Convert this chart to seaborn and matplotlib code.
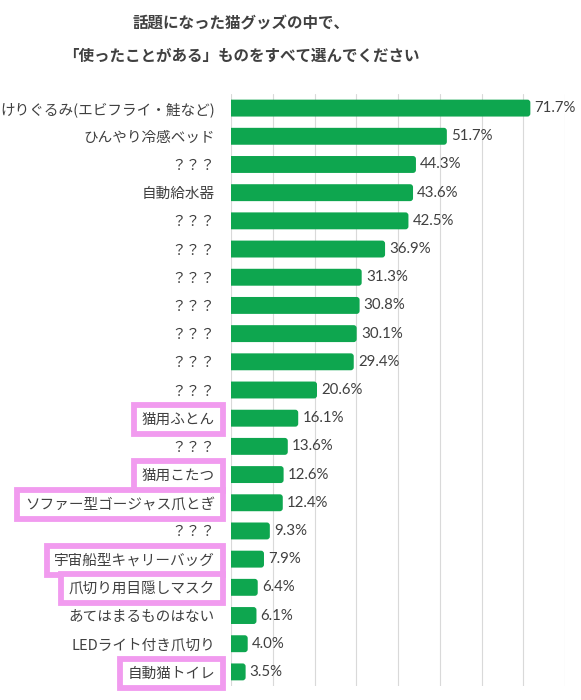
import numpy as np
import matplotlib
matplotlib.use('Agg')
import matplotlib.pyplot as plt
from matplotlib.patches import FancyBboxPatch
import seaborn as sns

# data (top to bottom)
items = ['けりぐるみ(エビフライ・鮭など)', 'ひんやり冷感ベッド', '？？？', '自動給水器',
         '？？？', '？？？', '？？？', '？？？', '？？？', '？？？', '？？？',
         '猫用ふとん', '？？？', '猫用こたつ', 'ソファー型ゴージャス爪とぎ', '？？？',
         '宇宙船型キャリーバッグ', '爪切り用目隠しマスク', 'あてはまるものはない',
         'LEDライト付き爪切り', '自動猫トイレ']
percent = [71.7, 51.7, 44.3, 43.6, 42.5, 36.9, 31.3, 30.8, 30.1, 29.4, 20.6,
           16.1, 13.6, 12.6, 12.4, 9.3, 7.9, 6.4, 6.1, 4.0, 3.5]
highlighted = ['猫用ふとん', '猫用こたつ', 'ソファー型ゴージャス爪とぎ',
               '宇宙船型キャリーバッグ', '爪切り用目隠しマスク', '自動猫トイレ']
title1 = '話題になった猫グッズの中で、'
title2 = '「使ったことがある」ものをすべて選んでください'

green = '#0EA64F'
grey_text = '#404040'
pink = '#F19BEF'

sns.set_style('white')
plt.rcParams['font.family'] = ['Noto Sans CJK JP', 'DejaVu Sans']

W, H = 581, 700
fig = plt.figure(figsize=(W / 100, H / 100), dpi=100)
ax = fig.add_axes([231 / W, 1 - 686 / H, (565 - 231) / W, (686 - 94) / H])

pos = np.arange(len(items))
sns.barplot(x=percent, y=pos, orient='h', color=green, saturation=1,
            width=0.6, ax=ax)

# value labels at the end of each bar
ax.bar_label(ax.containers[0], labels=[f'{v:.1f}%' for v in percent],
             padding=3, fontsize=10.8, color=grey_text, family=['Lato', 'DejaVu Sans'])

# rounded right ends: swap rectangles for rounded boxes, left side hidden by clipping
bars = list(ax.patches)
for b in bars:
    x0, y0 = b.get_x(), b.get_y()
    w, h = b.get_width(), b.get_height()
    b.remove()
    ax.add_patch(FancyBboxPatch((x0 - 1.5, y0), w + 1.5, h,
                                boxstyle='round,pad=0,rounding_size=0.7',
                                mutation_aspect=0.15, fc=green, ec='none', zorder=2))

ax.set_xlim(0, 80)
ax.set_xticks(range(0, 81, 10))
ax.set_xticklabels([])
ax.xaxis.grid(True, color='#D9D9D9', lw=0.8)
ax.set_axisbelow(True)
ax.tick_params(axis='x', length=0)
ax.tick_params(axis='y', length=0, pad=11.5)
ax.set_yticks(pos)
ax.set_yticklabels(items, fontsize=10.5, color=grey_text)
ax.set_xlabel('')
ax.set_ylabel('')
sns.despine(ax=ax, left=True, bottom=True)

# pink highlight boxes on selected labels
for lab in ax.get_yticklabels():
    if lab.get_text() in highlighted:
        lab.set_bbox(dict(boxstyle='square,pad=0.52', fc='white', ec=pink, lw=4.2))

fig.text(241 / W, 1 - 23 / H, title1, ha='center', va='center',
         fontsize=11.2, weight='bold', color=grey_text)
fig.text(241 / W, 1 - 56 / H, title2, ha='center', va='center',
         fontsize=11.2, weight='bold', color=grey_text)

fig.savefig('out.png', dpi=100, facecolor='white')
